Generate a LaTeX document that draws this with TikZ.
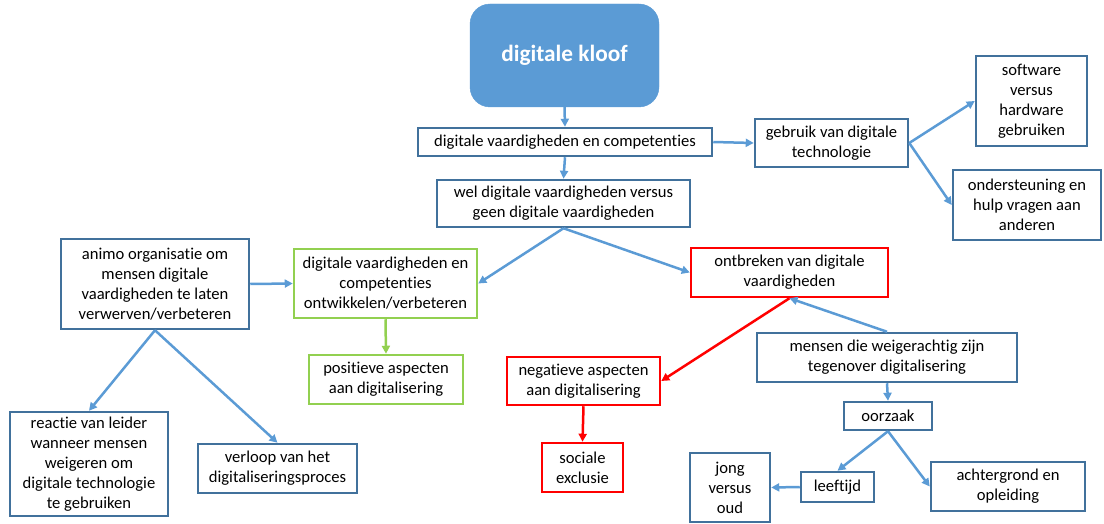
\documentclass[tikz,border=0pt]{standalone}
\usepackage{fontspec}
\setmainfont{Carlito}[Ligatures={NoCommon}]
\usetikzlibrary{arrows.meta}
\definecolor{boxblue}{HTML}{41719C}
\definecolor{linkblue}{HTML}{5B9BD5}
\definecolor{okgreen}{HTML}{92D050}
\definecolor{badred}{HTML}{FF0000}
\begin{document}
\begin{tikzpicture}[x=1pt,y=-1pt,
  every node/.style={font=\fontsize{16.6}{20}\selectfont, align=center, inner sep=0pt},
  bluebox/.style={draw=boxblue, line width=2.5pt, fill=white},
  greenbox/.style={draw=okgreen, line width=2.5pt, fill=white},
  redbox/.style={draw=badred, line width=2.5pt, fill=white},
  link/.style={draw=linkblue, line width=2.5pt, -{Triangle[length=8pt,width=8pt]}},
  greenlink/.style={link, draw=okgreen},
  redlink/.style={link, draw=badred},
  sz/.style 2 args={minimum width=#1, minimum height=#2}]
\path[use as bounding box] (0,0) rectangle (1104,524);

% title
\node[fill=linkblue, draw=linkblue, rounded corners=20pt, sz={189pt}{103pt},
      text=white, font=\fontsize{23.3}{28}\selectfont\bfseries] (kloof) at (564.5,55.5) {digitale kloof};

% upper chain
\node[bluebox, sz={294pt}{28pt}] (dvc) at (565,142) {digitale vaardigheden en competenties};
\node[bluebox, sz={153pt}{48pt}] (gebruik) at (831.5,143) {gebruik van digitale\\technologie};
\node[bluebox, sz={111pt}{90pt}] (software) at (1031.5,101) {software\\versus\\hardware\\gebruiken};
\node[bluebox, sz={148pt}{70pt}] (hulp) at (1027,205) {ondersteuning en\\hulp vragen aan\\anderen};
\node[bluebox, sz={253pt}{47pt}] (wel) at (563.5,203.5) {wel digitale vaardigheden versus\\geen digitale vaardigheden};

% left branch
\node[bluebox, sz={188pt}{90pt}] (animo) at (155,284) {animo organisatie om\\mensen digitale\\vaardigheden te laten\\verwerven/verbeteren};
\node[greenbox, sz={183pt}{69pt}] (ontw) at (385.5,283.5) {digitale vaardigheden en\\competenties\\ontwikkelen/verbeteren};
\node[greenbox, sz={154pt}{49pt}] (pos) at (386,379.5) {positieve aspecten\\aan digitalisering};
\node[bluebox, sz={158pt}{104pt}] (reactie) at (89,464) {reactie van leider\\wanneer mensen\\weigeren om\\digitale technologie\\te gebruiken};
\node[bluebox, sz={159pt}{49pt}] (verloop) at (277.5,468.5) {verloop van het\\digitaliseringsproces};

% right branch
\node[redbox, sz={197pt}{49pt}] (ontbr) at (789.5,272.5) {ontbreken van digitale\\vaardigheden};
\node[redbox, sz={153pt}{48pt}] (neg) at (583.5,381) {negatieve aspecten\\aan digitalisering};
\node[redbox, sz={81pt}{49pt}] (sociaal) at (582.5,467.5) {sociale\\exclusie};
\node[bluebox, sz={260pt}{49pt}] (weiger) at (887,357.5) {mensen die weigerachtig zijn\\tegenover digitalisering};
\node[bluebox, sz={88pt}{28pt}] (oorzaak) at (888,416) {oorzaak};
\node[bluebox, sz={73pt}{30pt}] (leeftijd) at (837.5,487) {leeftijd};
\node[bluebox, sz={80pt}{69pt}] (jong) at (730,487.5) {jong\\versus\\oud};
\node[bluebox, sz={154pt}{49pt}] (achter) at (1008,486.5) {achtergrond en\\opleiding};

% connectors
\draw[link] (kloof.south) -- (dvc.north);
\draw[link] (dvc.east) -- (gebruik.west);
\draw[link] (dvc.south) -- (wel.north);
\draw[link] (gebruik.east) -- (software.west);
\draw[link] (gebruik.east) -- (hulp.west);
\draw[link] (wel.south) -- (ontw.east);
\draw[link] (wel.south) -- (ontbr.west);
\draw[link] (animo.east) -- (ontw.west);
\draw[greenlink] (ontw.south) -- (pos.north);
\draw[link] (animo.south) -- (reactie.north);
\draw[link] (animo.south) -- (verloop.north);
\draw[redlink] (ontbr.south) -- (neg.east);
\draw[redlink] (neg.south) -- (sociaal.north);
\draw[link] (weiger.north) -- (ontbr.south);
\draw[link] (weiger.south) -- (oorzaak.north);
\draw[link] (oorzaak.south) -- (leeftijd.north);
\draw[link] (oorzaak.south) -- (achter.west);
\draw[link] (leeftijd.west) -- (jong.east);
\end{tikzpicture}
\end{document}
